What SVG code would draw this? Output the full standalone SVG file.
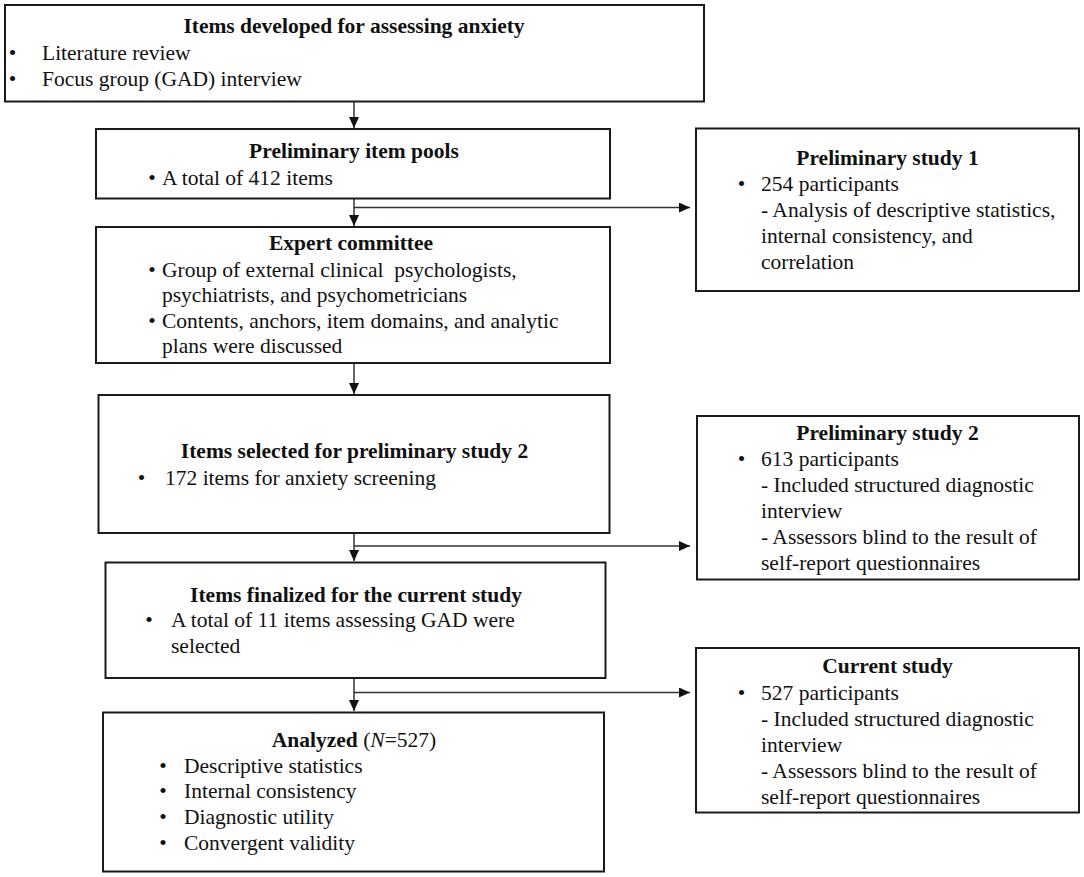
<svg xmlns="http://www.w3.org/2000/svg" width="1084" height="877" viewBox="0 0 1084 877">
<style>
.box{fill:#fff;stroke:#1a1a1a;stroke-width:2}
text{font-family:"Liberation Serif","Times New Roman",serif;font-size:21.5px;fill:#111}
.t{font-weight:bold;text-anchor:middle}
.b{text-anchor:middle}
.c{fill:none;stroke:#333;stroke-width:1.5}
</style>
<defs>
<marker id="ah" markerUnits="userSpaceOnUse" markerWidth="12" markerHeight="11" refX="11" refY="5" orient="auto">
<path d="M0,0 L11,5 L0,10 z" fill="#111"/>
</marker>
</defs>
<rect width="1084" height="877" fill="#fff"/>
<g id="connectors">
<path class="c" d="M354,102 V128" marker-end="url(#ah)"/>
<path class="c" d="M354,199 V226" marker-end="url(#ah)"/>
<path class="c" d="M354,207.5 H690" marker-end="url(#ah)"/>
<path class="c" d="M354,364 V394" marker-end="url(#ah)"/>
<path class="c" d="M354,534 V561" marker-end="url(#ah)"/>
<path class="c" d="M354,546 H690" marker-end="url(#ah)"/>
<path class="c" d="M354,679 V711" marker-end="url(#ah)"/>
<path class="c" d="M354,692.5 H690" marker-end="url(#ah)"/>
</g>
<g id="n1">
<rect class="box" x="5" y="5" width="699" height="96.5"/>
<text class="t" x="354" y="33">Items developed for assessing anxiety</text>
<text class="b" x="12.5" y="60">•</text><text x="42" y="60">Literature review</text>
<text class="b" x="12.5" y="86">•</text><text x="42" y="86">Focus group (GAD) interview</text>
</g>
<g id="n2">
<rect class="box" x="96" y="129" width="514" height="69.5"/>
<text class="t" x="354" y="158">Preliminary item pools</text>
<text class="b" x="152" y="185">•</text><text x="162" y="185">A total of 412 items</text>
</g>
<g id="n3">
<rect class="box" x="96" y="227" width="514" height="136"/>
<text class="t" x="351" y="250">Expert committee</text>
<text class="b" x="152" y="277">•</text><text x="162" y="277" style="white-space:pre">Group of external clinical  psychologists,</text>
<text x="162" y="302">psychiatrists, and psychometricians</text>
<text class="b" x="152" y="328">•</text><text x="162" y="328">Contents, anchors, item domains, and analytic</text>
<text x="162" y="353">plans were discussed</text>
</g>
<g id="n4">
<rect class="box" x="98.5" y="395" width="511" height="138"/>
<text class="t" x="354.5" y="458">Items selected for preliminary study 2</text>
<text class="b" x="141.5" y="485">•</text><text x="165" y="485">172 items for anxiety screening</text>
</g>
<g id="n5">
<rect class="box" x="105.5" y="562.5" width="500" height="115.5"/>
<text class="t" x="356" y="602">Items finalized for the current study</text>
<text class="b" x="149" y="627">•</text><text x="171" y="627">A total of 11 items assessing GAD were</text>
<text x="171" y="653">selected</text>
</g>
<g id="n6">
<rect class="box" x="103" y="712.5" width="501" height="159"/>
<text class="b" x="354" y="747"><tspan font-weight="bold">Analyzed</tspan> (<tspan font-style="italic">N</tspan>=527)</text>
<text class="b" x="163" y="773">•</text><text x="184" y="773">Descriptive statistics</text>
<text class="b" x="163" y="798">•</text><text x="184" y="798">Internal consistency</text>
<text class="b" x="163" y="824">•</text><text x="184" y="824">Diagnostic utility</text>
<text class="b" x="163" y="850">•</text><text x="184" y="850">Convergent validity</text>
</g>
<g id="p1">
<rect class="box" x="696" y="128.5" width="383" height="162.5"/>
<text class="t" x="887.5" y="165">Preliminary study 1</text>
<text class="b" x="741.5" y="191">•</text><text x="761" y="191">254 participants</text>
<text x="761" y="217">- Analysis of descriptive statistics,</text>
<text x="761" y="243">internal consistency, and</text>
<text x="761" y="269">correlation</text>
</g>
<g id="p2">
<rect class="box" x="697" y="416" width="382" height="163.5"/>
<text class="t" x="887.5" y="440">Preliminary study 2</text>
<text class="b" x="741.5" y="466">•</text><text x="761" y="466">613 participants</text>
<text x="761" y="492">- Included structured diagnostic</text>
<text x="761" y="518">interview</text>
<text x="761" y="544">- Assessors blind to the result of</text>
<text x="761" y="570">self-report questionnaires</text>
</g>
<g id="cs">
<rect class="box" x="696" y="648" width="383" height="164.5"/>
<text class="t" x="887.5" y="673">Current study</text>
<text class="b" x="741.5" y="700">•</text><text x="761" y="700">527 participants</text>
<text x="761" y="726">- Included structured diagnostic</text>
<text x="761" y="752">interview</text>
<text x="761" y="778">- Assessors blind to the result of</text>
<text x="761" y="804">self-report questionnaires</text>
</g>
</svg>
